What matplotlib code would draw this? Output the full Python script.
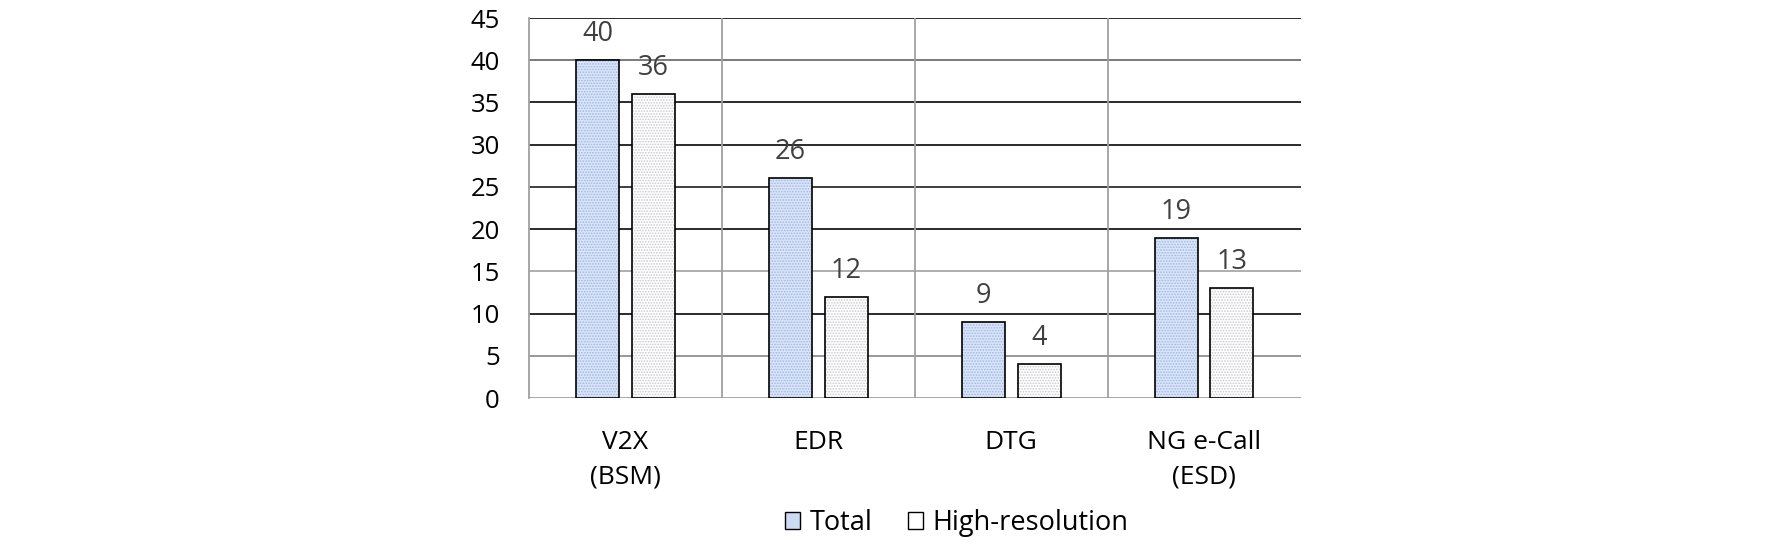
import numpy as np
import matplotlib
matplotlib.use('Agg')
import matplotlib.pyplot as plt
from matplotlib.patches import Patch

plt.rcParams['font.family'] = ['Open Sans', 'DejaVu Sans']
plt.rcParams['hatch.linewidth'] = 0.8

categories = ['V2X\n(BSM)', 'EDR', 'DTG', 'NG e-Call\n(ESD)']
total = [40, 26, 9, 19]
high_res = [36, 12, 4, 13]
y_ticks = [0, 5, 10, 15, 20, 25, 30, 35, 40, 45]

# gridline shades as they appear in the picture
grid_colors = ['#a0a0a0', '#909090', '#1a1a1a', '#a8a8a8', '#1a1a1a',
               '#303030', '#1a1a1a', '#1a1a1a', '#707070', '#1a1a1a']

fig = plt.figure(figsize=(17.72, 5.46), dpi=100)
ax = fig.add_axes([0.2985, 0.271, 0.4355, 0.696])

x = np.arange(len(categories))
w = 0.223
off = 0.144

for yv, c in zip(y_ticks, grid_colors):
    ax.axhline(yv, color=c, lw=1.3, zorder=1)
for xv in [0.5, 1.5, 2.5]:
    ax.axvline(xv, color='#a0a0a0', lw=1.3, zorder=1)

# Total bars: light blue with dot pattern
ax.bar(x - off, total, w, color='#dbe5f7', edgecolor='#9fb8e6', hatch='......',
       lw=0, zorder=2)
ax.bar(x - off, total, w, fill=False, edgecolor='black', lw=1.2, zorder=3)
# High-resolution bars: white with faint dots
ax.bar(x + off, high_res, w, color='white', edgecolor='#c8c8d0', hatch='......',
       lw=0, zorder=2)
ax.bar(x + off, high_res, w, fill=False, edgecolor='black', lw=1.2, zorder=3)

for xi, t, h in zip(x, total, high_res):
    ax.annotate(str(t), (xi - off, t), xytext=(0, 26), textcoords='offset pixels',
                ha='center', va='center', fontsize=19.5, color='#404040')
    ax.annotate(str(h), (xi + off, h), xytext=(0, 26), textcoords='offset pixels',
                ha='center', va='center', fontsize=19.5, color='#404040')

ax.set_xlim(-0.5, 3.5)
ax.set_ylim(0, 45)
ax.set_yticks(y_ticks)
ax.set_xticks(x)
ax.set_xticklabels(categories, linespacing=1.5)
ax.tick_params(axis='y', length=0, pad=21, labelsize=18.5)
ax.tick_params(axis='x', length=0, pad=23, labelsize=19)
for s in ['top', 'right', 'bottom']:
    ax.spines[s].set_visible(False)
ax.spines['left'].set_color('#a0a0a0')
ax.spines['left'].set_linewidth(1.3)

handles = [Patch(facecolor='#cddaf3', edgecolor='black', lw=1.0),
           Patch(facecolor='white', edgecolor='black', lw=1.0)]
fig.legend(handles, ['Total', 'High-resolution'], loc='center',
           bbox_to_anchor=(0.54, 0.042), ncol=2, frameon=False, fontsize=19.5,
           handlelength=0.55, handleheight=0.55, handletextpad=0.35,
           columnspacing=1.3)

fig.savefig('out.png', dpi=100)
